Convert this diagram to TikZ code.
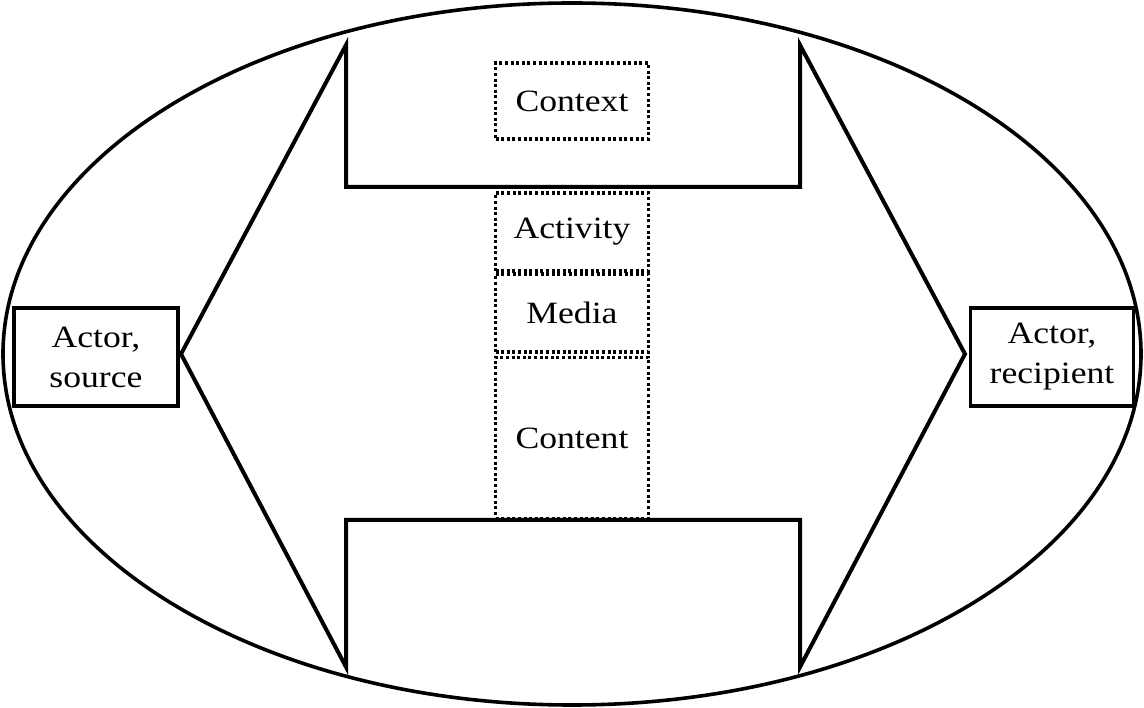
\documentclass[tikz,border=0pt]{standalone}
\usepackage{fontspec}
\setmainfont{Liberation Serif}[FakeStretch=1.15]
\begin{document}
\begin{tikzpicture}[x=1pt,y=-1pt,
  solidbox/.style={draw,line width=3.6pt,align=center,inner sep=0pt,
    font=\fontsize{31}{40}\selectfont},
  dotbox/.style={draw,line width=3.2pt,dash pattern=on 3pt off 2.6pt,
    inner sep=0pt,font=\fontsize{31}{40}\selectfont,minimum width=153pt},
  outline/.style={line width=4pt,line join=miter}]
\useasboundingbox (0,0) rectangle (1144,708);

% surrounding ellipse
\draw[line width=3.6pt] (572,354) ellipse [x radius=569, y radius=351];

% double-headed block arrow
\coordinate (tl) at (346,45);
\coordinate (tr) at (800,45);
\coordinate (lt) at (181,354);
\coordinate (rt) at (965,354);
\coordinate (bl) at (346,667);
\coordinate (br) at (800,667);
\draw[outline] (tl) -- (lt) -- (bl) -- (346,520) -- (800,520) -- (br)
  -- (rt) -- (tr) -- (800,187) -- (346,187) -- cycle;

% central dotted labels
\node[dotbox,minimum height=76pt] (context) at (572,101) {Context};
\node[dotbox,minimum height=78pt] (activity) at (572,232) {Activity};
\node[dotbox,minimum height=78pt] (media) at (572,313) {Media};
\node[dotbox,minimum height=161pt] (content) at (572,438) {Content};

% actors
\node[solidbox,minimum width=164pt,minimum height=98pt] (source) at (96,357) {Actor,\\source};
\node[solidbox,minimum width=163pt,minimum height=98pt] (recipient) at (1052,357) {Actor,\\recipient};
\end{tikzpicture}
\end{document}
